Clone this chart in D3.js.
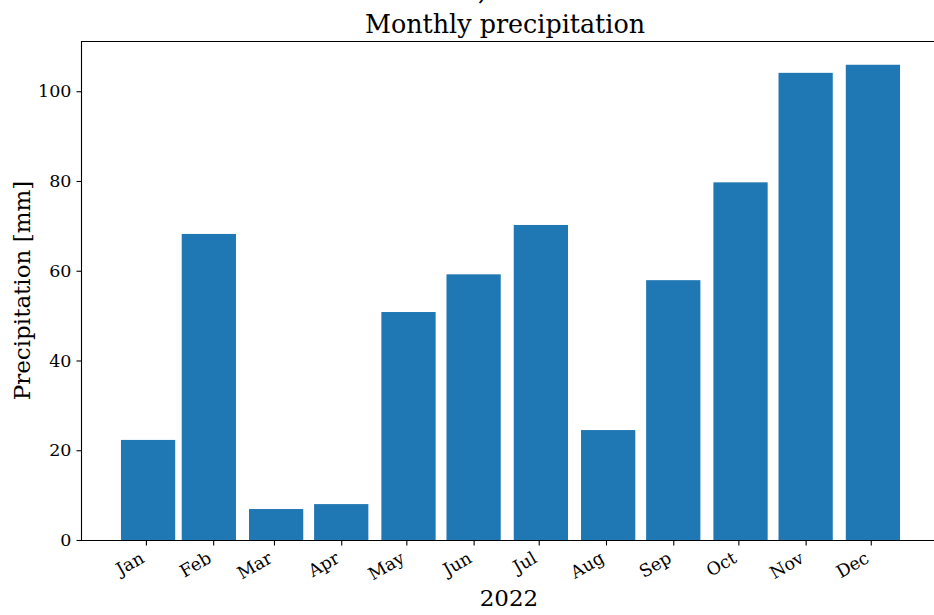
<!DOCTYPE html>
<html>
<head>
<meta charset="utf-8">
<script src="https://cdn.jsdelivr.net/npm/d3@7"></script>
<style>
  html, body { margin: 0; padding: 0; background: #fff; overflow: hidden; }
  svg { display: block; }
  text { font-family: "DejaVu Serif", serif; fill: #000; }
</style>
</head>
<body>
<svg id="chart" width="934" height="615"></svg>
<script>
// Monthly precipitation totals for 2022, stamped at each month's last day
const monthEnds = ["2022-01-31", "2022-02-28", "2022-03-31", "2022-04-30", "2022-05-31", "2022-06-30",
                   "2022-07-31", "2022-08-31", "2022-09-30", "2022-10-31", "2022-11-30", "2022-12-31"];
const precipitation = [22.3, 68.2, 6.9, 8.0, 50.8, 59.2, 70.2, 24.5, 57.9, 79.7, 104.1, 105.9];
const monthLabels = ["Jan", "Feb", "Mar", "Apr", "May", "Jun", "Jul", "Aug", "Sep", "Oct", "Nov", "Dec"];
const yTicks = [0, 20, 40, 60, 80, 100];

const barWidthDays = 25;
const parse = d3.utcParse("%Y-%m-%d");
const dates = monthEnds.map(parse);
// tick positions: 29 days after the first of each month
const tickDates = monthLabels.map((m, i) => d3.utcDay.offset(new Date(Date.UTC(2022, i, 1)), 29));

const svg = d3.select("#chart");
const plot = { left: 82, top: 41, bottom: 540, right: 939 };

// x extent covers the bars plus a 5% margin on either side
const x0 = d3.utcHour.offset(dates[0], -barWidthDays * 12);
const x1 = d3.utcHour.offset(dates[dates.length - 1], barWidthDays * 12);
const span = x1 - x0;
const x = d3.scaleUtc()
  .domain([new Date(+x0 - span * 0.05), new Date(+x1 + span * 0.05)])
  .range([plot.left, plot.right]);

const yMax = d3.max(precipitation) * 1.05;
const y = d3.scaleLinear().domain([0, yMax]).range([plot.bottom, plot.top]);

// bars
svg.append("g").selectAll("rect")
  .data(precipitation)
  .join("rect")
  .attr("x", (d, i) => x(d3.utcHour.offset(dates[i], -barWidthDays * 12)))
  .attr("width", (d, i) => x(d3.utcHour.offset(dates[i], barWidthDays * 12)) - x(d3.utcHour.offset(dates[i], -barWidthDays * 12)))
  .attr("y", d => y(d))
  .attr("height", d => y(0) - y(d))
  .attr("fill", "#1f77b4");

// axes frame
const frame = svg.append("g").attr("stroke", "#000").attr("stroke-width", 1.1).attr("fill", "none");
frame.append("line").attr("x1", plot.left).attr("x2", plot.right).attr("y1", plot.top + 0.5).attr("y2", plot.top + 0.5);
frame.append("line").attr("x1", plot.left).attr("x2", plot.right).attr("y1", plot.bottom + 0.5).attr("y2", plot.bottom + 0.5);
frame.append("line").attr("x1", plot.left - 0.5).attr("x2", plot.left - 0.5).attr("y1", plot.top).attr("y2", plot.bottom + 1);
frame.append("line").attr("x1", plot.right).attr("x2", plot.right).attr("y1", plot.top).attr("y2", plot.bottom + 1);

// x axis
const xAxis = svg.append("g")
  .attr("transform", `translate(0,${plot.bottom + 0.5})`)
  .call(d3.axisBottom(x).tickValues(tickDates).tickSize(5).tickPadding(0)
    .tickFormat((d, i) => monthLabels[i]));
xAxis.select(".domain").remove();
xAxis.selectAll(".tick line").attr("stroke", "#000").attr("stroke-width", 1.1);
xAxis.selectAll(".tick text")
  .attr("font-size", 17.5)
  .attr("font-family", "DejaVu Serif")
  .attr("text-anchor", "end")
  .attr("y", 0).attr("dy", 0)
  .attr("transform", "translate(-1,21) rotate(-30)");

// y axis
const yAxis = svg.append("g")
  .attr("transform", `translate(${plot.left - 0.5},0)`)
  .call(d3.axisLeft(y).tickValues(yTicks).tickSize(5).tickPadding(5));
yAxis.select(".domain").remove();
yAxis.selectAll(".tick line").attr("stroke", "#000").attr("stroke-width", 1.1);
yAxis.selectAll(".tick text")
  .attr("font-size", 17.5)
  .attr("font-family", "DejaVu Serif");

// titles
svg.append("text")
  .attr("x", 505).attr("y", 33)
  .attr("text-anchor", "middle")
  .attr("font-size", 25.4)
  .text("Monthly precipitation");

// trailing comma of the heading line above, clipped by the top edge
svg.append("text")
  .attr("x", 482).attr("y", 0)
  .attr("text-anchor", "middle")
  .attr("font-size", 25.4)
  .text(",");

svg.append("text")
  .attr("transform", `translate(30,${(plot.top + plot.bottom) / 2}) rotate(-90)`)
  .attr("text-anchor", "middle")
  .attr("font-size", 23)
  .text("Precipitation [mm]");

svg.append("text")
  .attr("x", 509).attr("y", 606)
  .attr("text-anchor", "middle")
  .attr("font-size", 23)
  .text("2022");
</script>
</body>
</html>
